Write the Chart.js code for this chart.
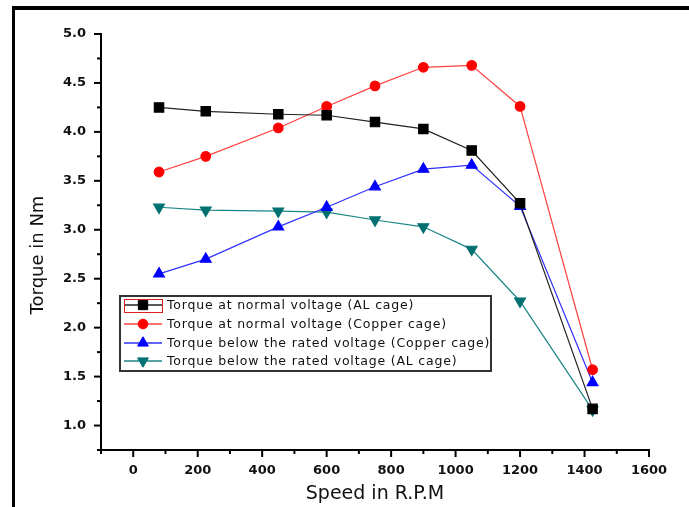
<!DOCTYPE html>
<html>
<head>
<meta charset="utf-8">
<script src="https://cdn.jsdelivr.net/npm/chart.js@4.4.0/dist/chart.umd.min.js"></script>
<style>
  html, body { margin: 0; padding: 0; background: #fff; }
  #wrap { position: relative; width: 689px; height: 507px; overflow: hidden; }
  #frame { position: absolute; left: 12px; top: 6px; right: -10px; bottom: -10px;
           border-left: 3px solid #000; border-top: 4px solid #000; pointer-events: none; }
</style>
</head>
<body>
<div id="wrap">
  <canvas id="torqueChart" width="689" height="507"></canvas>
  <div id="frame"></div>
</div>
<script>
// speed in rpm
var speed = [80, 225, 450, 600, 750, 900, 1050, 1200, 1425];

// torque in Nm
var alNormal     = [4.25, 4.21, 4.18, 4.17, 4.10, 4.03, 3.81, 3.27, 1.17];
var copperNormal = [3.59, 3.75, 4.04, 4.26, 4.47, 4.66, 4.68, 4.26, 1.57];
var copperBelow  = [2.55, 2.70, 3.03, 3.23, 3.44, 3.62, 3.66, 3.24, 1.44];
var alBelow      = [3.23, 3.20, 3.19, 3.18, 3.10, 3.03, 2.80, 2.27, 1.16];

var seriesNames = [
  "Torque at normal voltage (AL cage)",
  "Torque at normal voltage (Copper cage)",
  "Torque below the rated voltage (Copper cage)",
  "Torque below the rated voltage (AL cage)"
];
var yTitle = "Torque in Nm";

function pts(ys) {
  return ys.map(function (y, i) { return { x: speed[i], y: y }; });
}

function drawMarker(ctx, ds, x, y) {
  var opts = {
    pointStyle: ds.pointStyle, radius: ds.pointRadius,
    rotation: ds.pointRotation || 0, borderWidth: 1
  };
  ctx.fillStyle = ds.pointBackgroundColor;
  ctx.strokeStyle = ds.pointBorderColor;
  ctx.lineWidth = 1;
  Chart.helpers.drawPoint(ctx, opts, x, y);
}

// minor / major tick marks, origin style
var tickMarks = {
  id: "tickMarks",
  afterDraw: function (chart) {
    var ctx = chart.ctx;
    var xs = chart.scales.x, ys = chart.scales.y;
    ctx.save();
    ctx.strokeStyle = "#000";
    ctx.lineWidth = 2;
    xs.ticks.forEach(function (t) {
      var px = xs.getPixelForValue(t.value);
      var major = Math.abs(t.value % 200) < 1e-6;
      ctx.beginPath();
      ctx.moveTo(px, xs.top);
      ctx.lineTo(px, xs.top + (major ? 7 : 4));
      ctx.stroke();
    });
    ys.ticks.forEach(function (t) {
      var py = ys.getPixelForValue(t.value);
      var major = Math.abs(t.value * 2 - Math.round(t.value * 2)) < 1e-6;
      ctx.beginPath();
      ctx.moveTo(ys.right, py);
      ctx.lineTo(ys.right - (major ? 7 : 4), py);
      ctx.stroke();
    });
    // y axis title, sits a bit below the middle in the original
    ctx.translate(38, 255);
    ctx.rotate(-Math.PI / 2);
    ctx.fillStyle = "#111";
    ctx.font = "18px 'DejaVu Sans'";
    ctx.textAlign = "center";
    ctx.textBaseline = "middle";
    ctx.fillText(yTitle, 0, 0);
    ctx.restore();
  }
};

// boxed legend inside the plot
var boxLegend = {
  id: "boxLegend",
  afterDraw: function (chart) {
    var ctx = chart.ctx;
    var x0 = 120, y0 = 296, w = 371, h = 75;
    ctx.save();
    ctx.fillStyle = "#fff";
    ctx.fillRect(x0, y0, w, h);
    ctx.strokeStyle = "#333";
    ctx.lineWidth = 2;
    ctx.strokeRect(x0, y0, w, h);
    var rowY = [305, 324, 343, 361];
    chart.data.datasets.forEach(function (ds, i) {
      var y = rowY[i];
      ctx.strokeStyle = ds.borderColor;
      ctx.lineWidth = 1.5;
      ctx.beginPath();
      ctx.moveTo(124, y);
      ctx.lineTo(162, y);
      ctx.stroke();
      drawMarker(ctx, ds, 143, y);
      ctx.fillStyle = "#111";
      ctx.font = "12.5px 'DejaVu Sans'";
      ctx.letterSpacing = "0.8px";
      ctx.textBaseline = "middle";
      ctx.textAlign = "left";
      ctx.fillText(ds.label, 167, y + 1);
      ctx.letterSpacing = "0px";
    });
    ctx.strokeStyle = "#e02020";
    ctx.lineWidth = 1;
    ctx.strokeRect(124.5, 299.5, 38, 13);
    ctx.restore();
  }
};

var tickFont = { family: "DejaVu Sans", size: 13, weight: "bold" };

var ctx = document.getElementById("torqueChart");
var myChart = new Chart(ctx, {
  type: "line",
  data: {
    datasets: [
      {
        label: seriesNames[0],
        data: pts(alNormal),
        borderColor: "#222",
        borderWidth: 1.2,
        pointStyle: "rect",
        pointRadius: 6.6,
        pointBackgroundColor: "#000",
        pointBorderColor: "#000"
      },
      {
        label: seriesNames[1],
        data: pts(copperNormal),
        borderColor: "#ff4040",
        borderWidth: 1.2,
        pointStyle: "circle",
        pointRadius: 4.8,
        pointBackgroundColor: "#ff0000",
        pointBorderColor: "#ff0000"
      },
      {
        label: seriesNames[2],
        data: pts(copperBelow),
        borderColor: "#3030ff",
        borderWidth: 1.2,
        pointStyle: "triangle",
        pointRadius: 6.2,
        pointBackgroundColor: "#0000ff",
        pointBorderColor: "#0000ff"
      },
      {
        label: seriesNames[3],
        data: pts(alBelow),
        borderColor: "#1a8585",
        borderWidth: 1.2,
        pointStyle: "triangle",
        pointRotation: 180,
        pointRadius: 6.2,
        pointBackgroundColor: "#007070",
        pointBorderColor: "#007070"
      }
    ]
  },
  options: {
    responsive: false,
    animation: false,
    devicePixelRatio: 1,
    layout: { padding: { top: 34, right: 40, left: 0, bottom: 0 } },
    plugins: {
      legend: { display: false },
      tooltip: { enabled: false }
    },
    scales: {
      x: {
        type: "linear",
        min: -100,
        max: 1600,
        afterFit: function (scale) { scale.height = 57; },
        border: { color: "#000", width: 2 },
        grid: { drawOnChartArea: false, drawTicks: false },
        ticks: {
          stepSize: 100,
          autoSkip: false,
          maxRotation: 0,
          padding: 13,
          color: "#111",
          font: tickFont,
          callback: function (v) { return Math.abs(v % 200) < 1e-6 ? String(v) : ""; }
        },
        title: {
          display: true,
          text: "Speed in R.P.M",
          color: "#111",
          font: { family: "DejaVu Sans", size: 19 },
          padding: { top: 0, bottom: 2 }
        }
      },
      y: {
        min: 0.75,
        max: 5,
        afterFit: function (scale) { scale.width = 101; },
        border: { color: "#000", width: 2 },
        grid: { drawOnChartArea: false, drawTicks: false },
        ticks: {
          stepSize: 0.25,
          autoSkip: false,
          padding: 15,
          color: "#111",
          font: tickFont,
          callback: function (v) {
            return Math.abs(v * 2 - Math.round(v * 2)) < 1e-6 ? v.toFixed(1) : "";
          }
        },
        title: { display: false }
      }
    }
  },
  plugins: [tickMarks, boxLegend]
});
</script>
</body>
</html>
